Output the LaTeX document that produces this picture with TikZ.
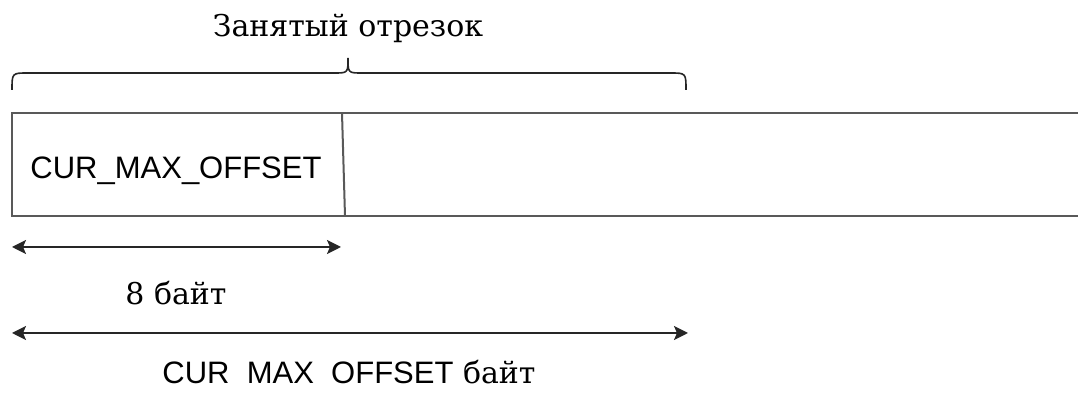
\documentclass[tikz,border=0pt]{standalone}
\usepackage{fontspec}
\setmainfont{DejaVu Serif}
\newfontfamily\labelfont{Liberation Sans}
\usetikzlibrary{arrows.meta}
\begin{document}
\begin{tikzpicture}[x=0.5pt,y=-0.5pt]
	\tikzstyle{cell} = [draw=black!65, line width=1pt]
	\tikzstyle{dim} = [{Stealth[length=7pt,width=7pt,inset=1.5pt]}-{Stealth[length=7pt,width=7pt,inset=1.5pt]}, line width=1pt, draw=black!85]
	\tikzstyle{serif} = [font=\fontsize{15}{18}\selectfont, anchor=base, inner sep=0pt]
	\tikzstyle{sans} = [font=\labelfont\fontsize{15.5}{18}\selectfont, anchor=base, inner sep=0pt]
	\useasboundingbox (0,0) rectangle (1078,394);
	% brace over the used part
	\node[serif](title)at (348,37){Занятый отрезок};
	\coordinate (bl) at (12,90);
	\coordinate (bt) at (348,58);
	\coordinate (br) at (686,90);
	\draw[line width=0.8pt, black!85] (bl) .. controls (12,73) .. (28,73) -- (334,73)
	.. controls (348,73) .. (bt) .. controls (348,73) .. (362,73) -- (670,73)
	.. controls (686,73) .. (br);
	% memory strip
	\draw[cell] (1078,113) -- (12,113) -- (12,216) -- (1078,216);
	\draw[cell] (342,113) -- (345,216);
	\node[sans](field)at (176,179){CUR\_MAX\_OFFSET};
	% sizes
	\coordinate (a1l) at (12,247);
	\coordinate (a1r) at (341,247);
	\coordinate (a2l) at (12,333);
	\coordinate (a2r) at (688,333);
	\draw[dim] (a1l) -- (a1r);
	\draw[dim] (a2l) -- (a2r);
	\node[serif](eight)at (176,305){8 байт};
	\node[serif](total)at (349,384){{\labelfont\fontsize{15.5}{18}\selectfont CUR\phantom{\_}MAX\phantom{\_}OFFSET} байт};
\end{tikzpicture}
\end{document}
